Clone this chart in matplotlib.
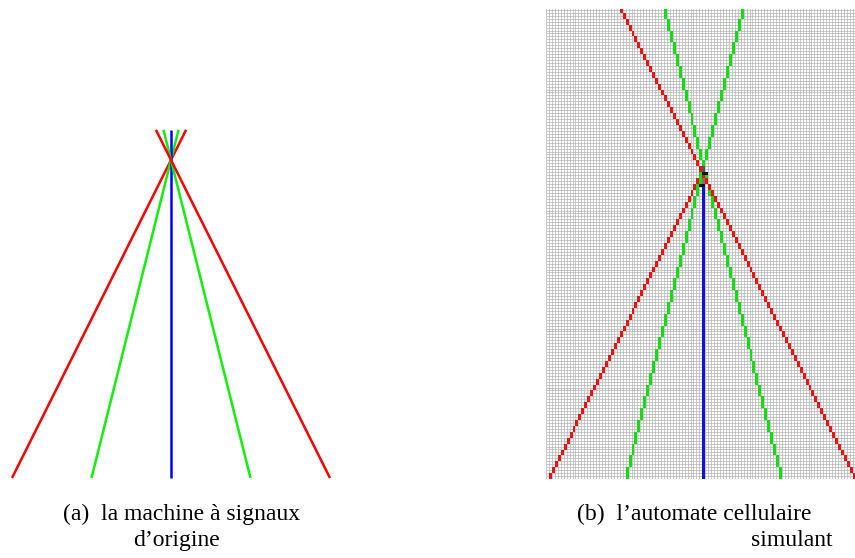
import numpy as np
import matplotlib.pyplot as plt
from matplotlib.colors import to_rgba

W, H = 855, 558

# (a) machine à signaux d'origine : positions de départ, vitesses, couleurs
sig_start = [-1.0, -0.5, 0.0, 0.5, 1.0]
sig_speed = [0.5, 0.25, 0.0, -0.25, -0.5]
sig_color = ['#ff0000', '#11ee11', '#0000ff', '#11ee11', '#ff0000']
t_end = 2.19

# (b) automate cellulaire simulant
n_rows, n_cols = 160, 105
ca_start = [1, 27, 53, 79, 104]      # colonne de départ
ca_period = [2, 4, 1, 4, 2]          # lignes par déplacement d'une case
ca_dir = [1, 1, 0, -1, -1]
ca_last = [101, 159, 98, 159, 159]   # dernière ligne du signal
ca_color = ['#ee1111', '#11dd11', '#1111dd', '#11dd11', '#ee1111']
# cellules de la collision (colonne, ligne, couleur)
coll_cells = [(52, 99, '#111111'), (53, 99, '#111111'),
              (53, 100, '#777777'), (53, 101, '#777777'),
              (53, 103, '#111111'), (54, 103, '#111111'),
              (53, 104, '#555555'), (53, 105, '#555555')]

fig = plt.figure(figsize=(W / 100, H / 100), dpi=100)


def px_axes(x0, y0, x1, y1):
    return fig.add_axes([x0 / W, 1 - y1 / H, (x1 - x0) / W, (y1 - y0) / H])


# --- panneau (a)
axa = px_axes(0, 110, 345, 490)
for x0, v, c in zip(sig_start, sig_speed, sig_color):
    axa.plot([x0, x0 + v * t_end], [0, t_end], color=c, lw=1.8,
             solid_capstyle='butt')
axa.set_xlim((0 - 171) / 159, (345 - 171) / 159)
axa.set_ylim((478 - 490) / 159, (478 - 110) / 159)
axa.axis('off')

# --- panneau (b)
axb = px_axes(546, 9, 855, 479)
img = np.zeros((n_rows, n_cols, 4))
for c0, p, d, last, col in zip(ca_start, ca_period, ca_dir, ca_last, ca_color):
    for r in range(last + 1):
        c = c0 + d * (r // p)
        if 0 <= c < n_cols:
            img[r, c] = to_rgba(col)
for c, r, col in coll_cells:
    img[r, c] = to_rgba(col)

axb.vlines(np.arange(n_cols + 1), 0, n_rows, color='#b4b4b4', lw=0.5, zorder=1)
axb.hlines(np.arange(n_rows + 1), 0, n_cols, color='#b4b4b4', lw=0.5, zorder=1)
axb.imshow(img, origin='lower', extent=(0, n_cols, 0, n_rows),
           interpolation='nearest', aspect='auto', zorder=3)
axb.set_xlim(0, 104.75)
axb.set_ylim(0, 159.3)
axb.axis('off')

# --- légendes
font = dict(family='Liberation Serif', fontsize=17, color='black')
fig.text(63 / W, 1 - 520 / H, '(a)  la machine à signaux', ha='left',
         va='baseline', **font)
fig.text(176 / W, 1 - 546 / H, 'd’origine', ha='center', va='baseline', **font)
fig.text(577 / W, 1 - 520 / H, '(b)  l’automate cellulaire', ha='left',
         va='baseline', **font)
fig.text(792 / W, 1 - 546 / H, 'simulant', ha='center', va='baseline', **font)

fig.savefig('out.png', dpi=100)
